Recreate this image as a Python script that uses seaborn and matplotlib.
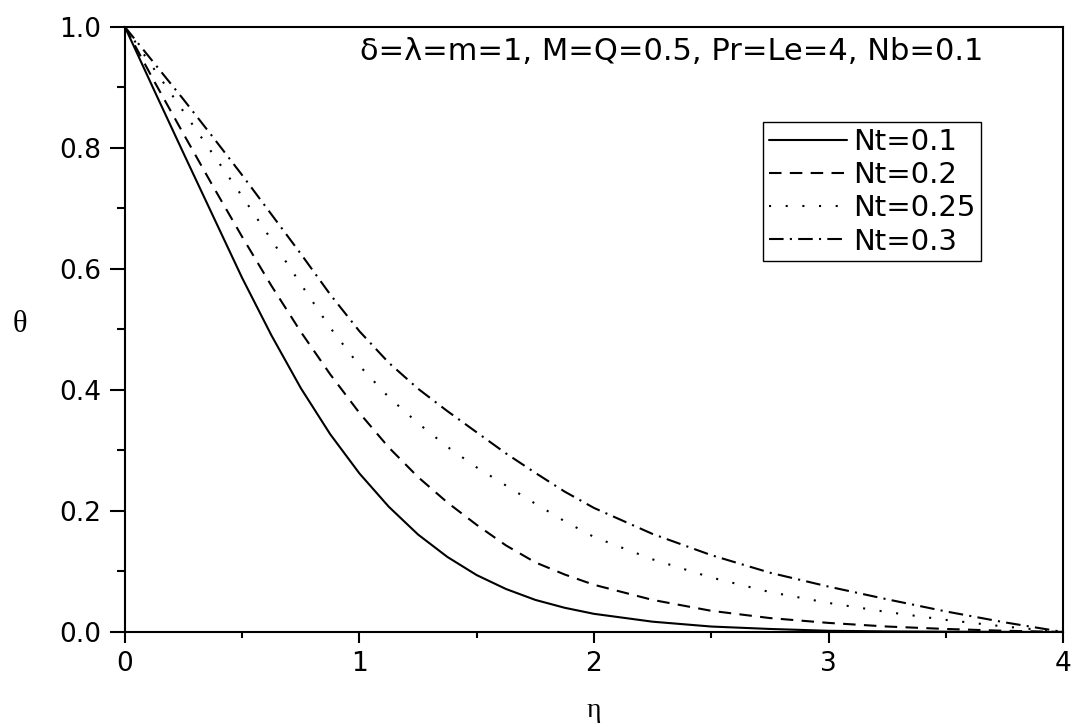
import numpy as np
import pandas as pd
import matplotlib
matplotlib.use("Agg")
import matplotlib.pyplot as plt
from matplotlib.ticker import MultipleLocator
import seaborn as sns

# values
eta = [0.0, 0.125, 0.25, 0.375, 0.5, 0.625, 0.75, 0.875, 1.0,
       1.125, 1.25, 1.375, 1.5, 1.625, 1.75, 1.875, 2.0,
       2.25, 2.5, 2.75, 3.0, 3.25, 3.5, 3.75, 4.0]
theta_nt01 = [1.0, 0.895, 0.791, 0.688, 0.585, 0.49, 0.403, 0.327, 0.262,
              0.207, 0.161, 0.124, 0.094, 0.071, 0.053, 0.040, 0.030,
              0.017, 0.009, 0.005, 0.002, 0.001, 0.0005, 0.0002, 0.0]
theta_nt02 = [1.0, 0.91, 0.823, 0.737, 0.653, 0.572, 0.496, 0.426, 0.362,
              0.305, 0.256, 0.214, 0.177, 0.143, 0.115, 0.095, 0.078,
              0.053, 0.035, 0.023, 0.015, 0.009, 0.005, 0.002, 0.0]
theta_nt025 = [1.0, 0.93, 0.86, 0.79, 0.72, 0.648, 0.575, 0.503, 0.440,
               0.388, 0.345, 0.306, 0.272, 0.242, 0.212, 0.183, 0.157,
               0.12, 0.09, 0.066, 0.048, 0.033, 0.02, 0.009, 0.0]
theta_nt03 = [1.0, 0.94, 0.88, 0.818, 0.755, 0.69, 0.625, 0.558, 0.497,
              0.445, 0.402, 0.365, 0.33, 0.295, 0.263, 0.232, 0.205,
              0.162, 0.127, 0.098, 0.075, 0.054, 0.034, 0.016, 0.0]
labels = ["Nt=0.1", "Nt=0.2", "Nt=0.25", "Nt=0.3"]

df = pd.concat([
    pd.DataFrame({"eta": eta, "theta": th, "Nt": lab})
    for th, lab in zip([theta_nt01, theta_nt02, theta_nt025, theta_nt03], labels)
])

sns.set_style("ticks")
plt.rcParams['font.family'] = ['DejaVu Sans']
plt.rcParams['text.color'] = 'k'
plt.rcParams['axes.labelcolor'] = 'k'
plt.rcParams['xtick.color'] = 'k'
plt.rcParams['ytick.color'] = 'k'

fig = plt.figure(figsize=(10.79, 7.27), dpi=100)
ax = fig.add_axes([0.1158, 0.1307, 0.8694, 0.8322])

dash_map = {"Nt=0.1": "", "Nt=0.2": (6, 4), "Nt=0.25": (1, 7), "Nt=0.3": (7, 3, 1, 3)}
sns.lineplot(data=df, x="eta", y="theta", style="Nt", style_order=labels,
             dashes=dash_map, color="k", linewidth=1.5, ax=ax, legend=True)

leg = ax.get_legend()
handles = leg.legend_handles
for h in handles:
    h.set_color("k")
    h.set_linewidth(1.5)
leg.remove()
lg = ax.legend(handles, labels, loc="upper left", bbox_to_anchor=(0.68, 0.843),
               fontsize=21, frameon=True, fancybox=False, edgecolor="k",
               framealpha=1, borderpad=0.2, labelspacing=0.18, handlelength=2.7,
               handletextpad=0.2, borderaxespad=0)
lg.get_frame().set_linewidth(1.0)

ax.set_xlim(0, 4)
ax.set_ylim(0, 1.0)
ax.xaxis.set_minor_locator(MultipleLocator(0.5))
ax.yaxis.set_minor_locator(MultipleLocator(0.1))
ax.set_xticks([0, 1, 2, 3, 4])
ax.set_xticklabels(["0", "1", "2", "3", "4"])
ax.set_yticks([0.0, 0.2, 0.4, 0.6, 0.8, 1.0])
ax.set_yticklabels(["0.0", "0.2", "0.4", "0.6", "0.8", "1.0"])

ax.tick_params(axis="y", which="major", direction="out", length=11, width=1.5,
               labelsize=19, pad=6, right=False)
ax.tick_params(axis="y", which="minor", direction="out", length=6, width=1.5, right=False)
ax.tick_params(axis="x", which="major", direction="out", length=8, width=1.5,
               labelsize=19, pad=6, top=False)
ax.tick_params(axis="x", which="minor", direction="out", length=4.5, width=1.5, top=False)
for s in ax.spines.values():
    s.set_visible(True)
    s.set_linewidth(1.5)
    s.set_color("k")

ax.set_xlabel("η", fontsize=20, family="Liberation Serif", va="center")
ax.xaxis.set_label_coords(0.5, -0.13)
ax.set_ylabel("θ", fontsize=22, family="Liberation Serif", rotation=0, va="center")
ax.yaxis.set_label_coords(-0.112, 0.509)

ax.text(0.583, 0.96, "δ=λ=m=1, M=Q=0.5, Pr=Le=4, Nb=0.1", transform=ax.transAxes,
        fontsize=22, ha="center", va="center")

fig.savefig("out.png", dpi=100)
